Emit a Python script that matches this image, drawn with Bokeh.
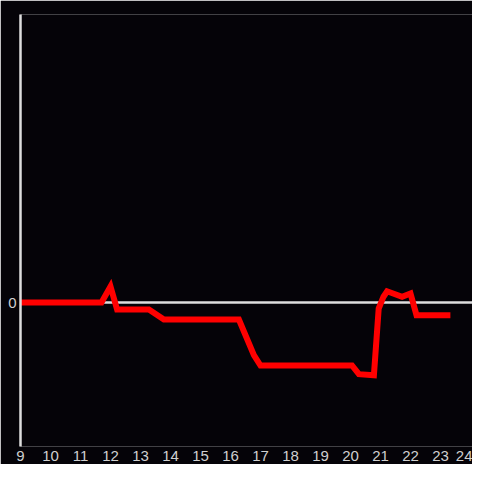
from bokeh.plotting import figure
from bokeh.models import Range1d, FixedTicker, Span
from bokeh.embed import file_html
from bokeh.resources import INLINE

# data (hour of day, value)
hours = [9.0, 11.7, 12.0, 12.22, 13.28, 13.78, 16.28, 16.78, 17.0, 20.05,
         20.28, 20.78, 20.94, 21.1, 21.22, 21.72, 22.0, 22.2, 23.33]
values = [0.0, 0.0, 0.111, -0.049, -0.049, -0.118, -0.118, -0.366, -0.4375, -0.4375,
          -0.498, -0.505, -0.042, 0.04, 0.078, 0.04, 0.0625, -0.088, -0.088]
x_ticks = list(range(9, 25))
y_ticks = [0]

BG = "#050308"
AXIS = "#dedede"
LABEL = "#d0d0d0"
FONT = "Liberation Sans"

p = figure(width=472, height=464, output_backend="svg", toolbar_location=None,
           x_range=Range1d(9, 9 + 452 / 30), y_range=Range1d(-1, 2),
           min_border_left=20, min_border_right=0, min_border_top=14, min_border_bottom=18,
           background_fill_color=BG, border_fill_color=BG, outline_line_color=None)
p.grid.visible = False

zero = Span(location=0, dimension="width", line_color=AXIS, line_width=2.5, level="underlay")
p.add_layout(zero)

p.line(hours, values, line_color="#ff0000", line_width=6, line_join="miter")

xa = p.xaxis[0]
xa.ticker = FixedTicker(ticks=x_ticks)
xa.axis_line_color = None
xa.major_tick_line_color = None
xa.minor_tick_line_color = None
xa.major_tick_out = 0
xa.major_tick_in = 0
xa.major_label_standoff = 4
xa.major_label_text_font = FONT
xa.major_label_text_font_size = "15px"
xa.major_label_text_color = LABEL

ya = p.yaxis[0]
ya.ticker = FixedTicker(ticks=y_ticks)
ya.axis_line_color = AXIS
ya.axis_line_width = 2.5
ya.major_tick_line_color = None
ya.minor_tick_line_color = None
ya.major_tick_out = 0
ya.major_tick_in = 0
ya.major_label_standoff = 4
ya.major_label_text_font = FONT
ya.major_label_text_font_size = "15px"
ya.major_label_text_color = LABEL

open("out.html", "w").write(file_html(p, INLINE))
